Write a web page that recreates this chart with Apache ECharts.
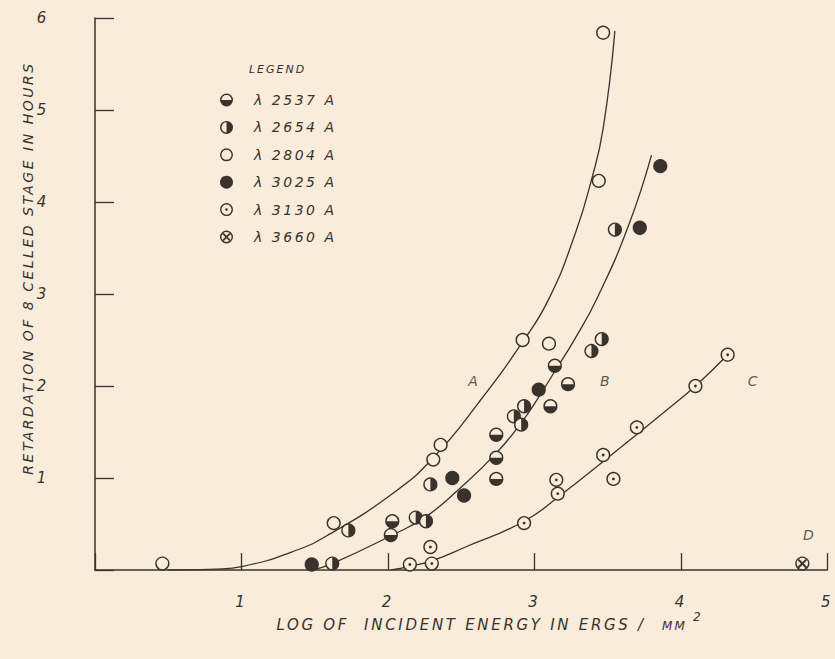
<!DOCTYPE html>
<html><head><meta charset="utf-8">
<script src="https://cdn.jsdelivr.net/npm/echarts@6/dist/echarts.min.js"></script>
<style>
html,body{margin:0;padding:0;background:#f9ecda;}
#c{width:835px;height:659px;}
#c text{letter-spacing:0.18em;}
</style>
</head><body><div id="c"></div><script>
// ---- data ----
const legendNames = ['λ 2537 A','λ 2654 A','λ 2804 A','λ 3025 A','λ 3130 A','λ 3660 A'];
const xTickLabels = ['', '1', '2', '3', '4', '5'];
const yTickLabels = ['', '1', '2', '3', '4', '5', '6'];
const wl2537 = [[2.03,0.53],[2.02,0.38],[2.74,1.47],[2.74,1.22],[2.74,0.99],[3.14,2.22],[3.23,2.02],[3.11,1.78]];
const wl2654 = [[1.62,0.07],[1.73,0.43],[2.19,0.57],[2.26,0.53],[2.29,0.93],[2.86,1.67],[2.91,1.58],[2.93,1.78],[3.39,2.38],[3.46,2.51],[3.55,3.70]];
const wl2804 = [[0.46,0.07],[1.63,0.51],[2.31,1.20],[2.36,1.36],[2.92,2.50],[3.10,2.46],[3.44,4.23],[3.47,5.84]];
const wl3025 = [[1.48,0.06],[2.44,1.00],[2.52,0.81],[3.03,1.96],[3.72,3.72],[3.86,4.39]];
const wl3130 = [[2.15,0.06],[2.30,0.07],[2.29,0.25],[2.93,0.51],[3.15,0.98],[3.16,0.83],[3.47,1.25],[3.54,0.99],[3.70,1.55],[4.10,2.00],[4.32,2.34]];
const wl3660 = [[4.83,0.07]];
const curveA = [[0.50,0],[0.83,0.01],[1.01,0.04],[1.35,0.20],[1.58,0.37],[2.04,0.84],[2.31,1.22],[2.62,1.82],[2.92,2.48],[3.10,2.95],[3.28,3.66],[3.39,4.24],[3.47,4.80],[3.55,5.86]];
const curveB = [[1.48,0],[1.62,0.07],[2.03,0.38],[2.26,0.58],[2.50,0.90],[2.74,1.27],[2.91,1.60],[3.03,1.88],[3.14,2.16],[3.28,2.52],[3.43,2.96],[3.64,3.73],[3.80,4.51]];
const curveC = [[2.02,0],[2.15,0.04],[2.30,0.10],[2.53,0.25],[2.93,0.53],[3.20,0.84],[3.47,1.18],[3.89,1.72],[4.10,2.00],[4.32,2.34]];
const curveLabels = [['A',2.59,2.05],['B',3.49,2.05],['C',4.50,2.05],['D',4.88,0.38]];

// ---- styling ----
const INK = '#3a322c';
const BG = '#f9ecda';
const FONT = 'DejaVu Sans';
const RING = 'M0 10A10 10 0 1 1 20 10A10 10 0 1 1 0 10ZM2.2 10A7.8 7.8 0 1 0 17.8 10A7.8 7.8 0 1 0 2.2 10Z';
const ICONS = {
  bottom: 'path://' + RING + 'M2.2 10L17.8 10A7.8 7.8 0 0 1 2.2 10Z',
  right: 'path://' + RING + 'M10 2.2L10 17.8A7.8 7.8 0 0 0 10 2.2Z',
  open: 'path://' + RING,
  filled: 'circle',
  dot: 'path://' + RING + 'M8 10A2 2 0 1 1 12 10A2 2 0 1 1 8 10Z',
  cross: 'path://' + RING + 'M5.82 3.98L16.02 14.18L14.18 16.02L3.98 5.82ZM14.18 3.98L16.02 5.82L5.82 16.02L3.98 14.18Z'
};
const kinds = ['bottom','right','open','filled','dot','cross'];
const pointSets = [wl2537, wl2654, wl2804, wl3025, wl3130, wl3660];

function markerRenderer(kind) {
  return function (params, api) {
    const p = api.coord([api.value(0), api.value(1)]);
    const r = 6.4;
    const kids = [{
      type: 'circle', shape: {cx: p[0], cy: p[1], r: r},
      style: {fill: kind === 'filled' ? INK : BG, stroke: INK, lineWidth: 1.4}
    }];
    if (kind === 'bottom') {
      kids.push({type: 'sector', shape: {cx: p[0], cy: p[1], r0: 0, r: r, startAngle: 0, endAngle: Math.PI, clockwise: true}, style: {fill: INK}});
    } else if (kind === 'right') {
      kids.push({type: 'sector', shape: {cx: p[0], cy: p[1], r0: 0, r: r, startAngle: -Math.PI / 2, endAngle: Math.PI / 2, clockwise: true}, style: {fill: INK}});
    } else if (kind === 'dot') {
      kids.push({type: 'circle', shape: {cx: p[0], cy: p[1], r: 1.4}, style: {fill: INK}});
    } else if (kind === 'cross') {
      const d = r * 0.62;
      kids.push({type: 'line', shape: {x1: p[0] - d, y1: p[1] - d, x2: p[0] + d, y2: p[1] + d}, style: {stroke: INK, lineWidth: 2}});
      kids.push({type: 'line', shape: {x1: p[0] + d, y1: p[1] - d, x2: p[0] - d, y2: p[1] + d}, style: {stroke: INK, lineWidth: 2}});
    }
    return {type: 'group', children: kids};
  };
}

const series = [];
[curveA, curveB, curveC].forEach(function (c, i) {
  series.push({
    type: 'line', name: 'curve' + i, data: c, smooth: 0.5,
    symbol: 'none', lineStyle: {color: INK, width: 1.3}, z: 2, silent: true
  });
});
pointSets.forEach(function (pts, i) {
  series.push({
    type: 'custom', name: legendNames[i], data: pts,
    encode: {x: 0, y: 1}, renderItem: markerRenderer(kinds[i]),
    itemStyle: {color: INK}, z: 5, clip: false
  });
});
series.push({
  type: 'scatter', name: 'labels', symbolSize: 0, z: 6,
  data: curveLabels.map(function (l) { return {name: l[0], value: [l[1], l[2]]}; }),
  label: {show: true, position: 'inside', formatter: '{b}', color: INK, fontFamily: FONT, fontStyle: 'italic', fontSize: 14}
});

const chart = echarts.init(document.getElementById('c'), null, {renderer: 'svg'});
chart.setOption({
  backgroundColor: BG,
  animation: false,
  grid: {left: 95, right: 0, top: 18, bottom: 89, containLabel: false},
  xAxis: {
    type: 'value', min: 0, max: 5, interval: 1,
    axisLine: {show: true, lineStyle: {color: INK, width: 1.5}},
    axisTick: {show: true, inside: true, length: 17, lineStyle: {color: INK, width: 1.3}},
    splitLine: {show: false},
    axisLabel: {margin: 24, color: INK, fontFamily: FONT, fontStyle: 'italic', fontSize: 15,
      formatter: function (v) { return xTickLabels[Math.round(v)] || ''; }},
    name: 'LOG OF  INCIDENT ENERGY IN ERGS /',
    nameLocation: 'middle', nameGap: 47, nameMoveOverlap: false,
    nameTextStyle: {color: INK, fontFamily: FONT, fontStyle: 'italic', fontSize: 15}
  },
  yAxis: {
    type: 'value', min: 0, max: 6, interval: 1,
    axisLine: {show: true, lineStyle: {color: INK, width: 1.5}},
    axisTick: {show: true, inside: true, length: 19, lineStyle: {color: INK, width: 1.3}},
    splitLine: {show: false},
    axisLabel: {margin: 46, color: INK, fontFamily: FONT, fontStyle: 'italic', fontSize: 15,
      formatter: function (v) { return yTickLabels[Math.round(v)] || ''; }},
    name: 'RETARDATION OF 8 CELLED STAGE IN HOURS',
    nameLocation: 'middle', nameGap: 60, nameMoveOverlap: false,
    nameTextStyle: {color: INK, fontFamily: FONT, fontStyle: 'italic', fontSize: 14, padding: [0, 0, 0, 52]}
  },
  legend: {
    orient: 'vertical', left: 215, top: 88, itemWidth: 13, itemHeight: 13, itemGap: 13.4,
    data: legendNames.map(function (n, i) { return {name: n, icon: ICONS[kinds[i]]}; }),
    itemStyle: {color: INK, borderWidth: 0},
    textStyle: {color: INK, fontFamily: FONT, fontStyle: 'italic', fontSize: 14, padding: [0, 0, 0, 16]},
    selectedMode: false
  },
  graphic: [{
    type: 'text', left: 249, top: 64,
    style: {text: 'LEGEND', fill: INK, font: 'italic 11px "DejaVu Sans"'}
  }, {
    type: 'text', left: 662, top: 620,
    style: {text: 'MM', fill: INK, font: 'italic 12px "DejaVu Sans"'}
  }, {
    type: 'text', left: 693, top: 611,
    style: {text: '2', fill: INK, font: 'italic 12px "DejaVu Sans"'}
  }],
  series: series
});
</script></body></html>
